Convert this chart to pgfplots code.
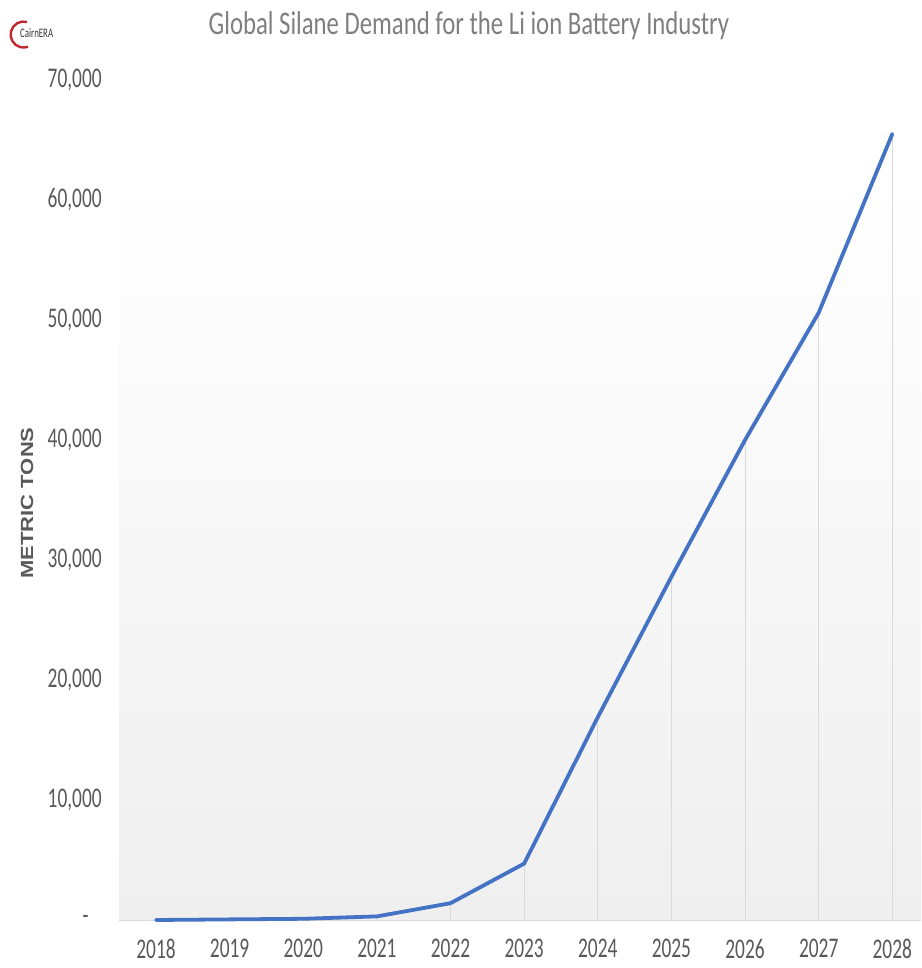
\documentclass[border=0pt]{standalone}
\usepackage{fontspec}
\setmainfont{Carlito}[FakeStretch=0.68]
\newfontfamily\titlefont{Carlito}[FakeStretch=0.75]
\newfontfamily\arialb{Liberation Sans}
\usepackage{graphicx}
\usepackage{pgfplots}
\pgfplotsset{compat=1.18}
\definecolor{lineblue}{HTML}{4472C4}
\definecolor{ticktext}{HTML}{595959}
\definecolor{titletext}{HTML}{7F7F7F}
\definecolor{gridc}{HTML}{D9D9D9}
\definecolor{bgbottom}{HTML}{EFEFEF}
\definecolor{logored}{HTML}{C0282D}
\begin{document}
\begin{tikzpicture}[x=1pt,y=1pt]
\useasboundingbox (0,0) rectangle (921,968);
\begin{axis}[
  at={(119.2pt,48pt)}, anchor=south west,
  scale only axis, width=801.8pt, height=840pt,
  xmin=2017.5, xmax=2028.39, ymin=0, ymax=70000,
  scaled y ticks=false,
  axis x line*=bottom, axis y line*=left,
  y axis line style={draw=none},
  x axis line style={draw=gridc, line width=1.3pt, -},
  tick style={draw=none},
  xtick={2018,2019,2020,2021,2022,2023,2024,2025,2026,2027,2028},
  xticklabels={2018,2019,2020,2021,2022,2023,2024,2025,2026,2027,2028},
  ytick={0,10000,20000,30000,40000,50000,60000,70000},
  yticklabels={{-\hspace*{13pt}},{10,000},{20,000},{30,000},{40,000},{50,000},{60,000},{70,000}},
  tick label style={font=\fontsize{28.5}{30}\selectfont, text=ticktext},
  yticklabel style={anchor=east, xshift=-14pt},
  xticklabel style={anchor=north, yshift=-18pt, inner sep=1pt},
  clip=false,
]
\fill[top color=white, bottom color=bgbottom] (axis cs:2017.5,0) rectangle (axis cs:2028.39,61667);
\addplot[ycomb, draw=gridc, line width=1pt, mark=none] coordinates {
(2018,0) (2019,50) (2020,100) (2021,300) (2022,1400) (2023,4700) (2024,16900) (2025,28600) (2026,40000) (2027,50600) (2028,65500)};
\addplot[lineblue, line width=3.8pt, line join=round, line cap=round, mark=none] coordinates {
(2018,0) (2019,50) (2020,100) (2021,300) (2022,1400) (2023,4700) (2024,16900) (2025,28600) (2026,40000) (2027,50600) (2028,65500)};
\end{axis}
\node[text=titletext, font=\titlefont\fontsize{33}{35}\selectfont] at (469,942) {Global Silane Demand for the Li ion Battery Industry};
\node[text=ticktext, rotate=90, font=\arialb\bfseries\fontsize{22}{24}\selectfont] at (27,465) {\scalebox{1}[0.8]{METRIC TONS}};
\draw[logored, line width=2.4pt] (27,946) arc (75:290:13);
\node[anchor=west, inner sep=0pt, font=\fontsize{13}{14}\selectfont, text=black!80] at (20,935) {CairnERA};
\end{tikzpicture}
\end{document}
